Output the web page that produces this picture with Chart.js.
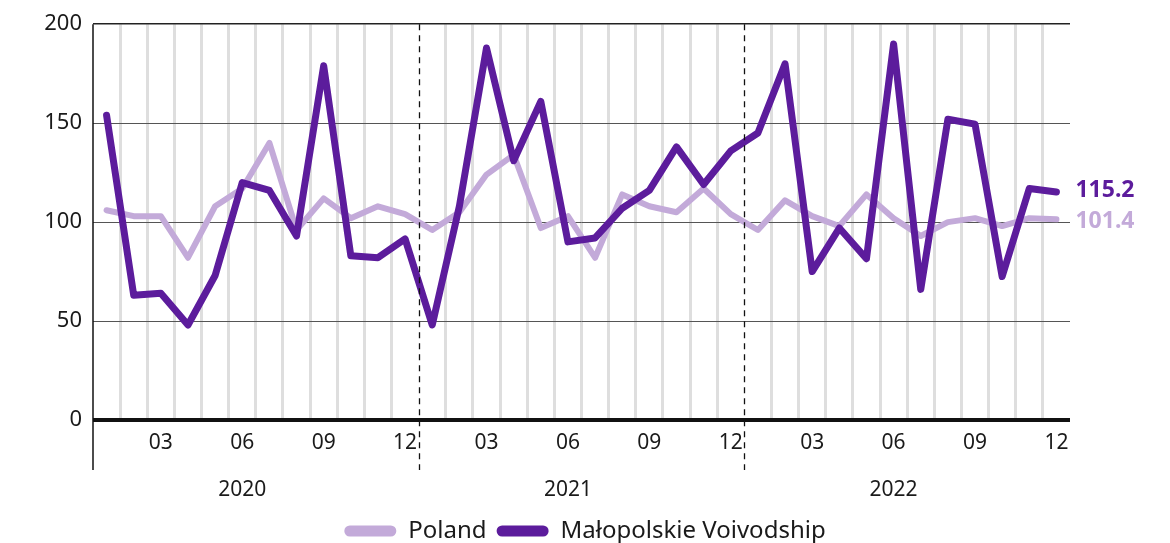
<!DOCTYPE html>
<html>
<head>
<meta charset="utf-8">
<script src="https://cdn.jsdelivr.net/npm/chart.js@4"></script>
<style>
  html, body { margin: 0; padding: 0; background: #fff; }
  #wrap { width: 1170px; height: 543px; }
</style>
</head>
<body>
<div id="wrap"><canvas id="graph"></canvas></div>
<script>
// months 2020-01 .. 2022-12
const years = ["2020", "2021", "2022"];
const months = ["01", "02", "03", "04", "05", "06", "07", "08", "09", "10", "11", "12"];
const labels = years.flatMap(y => months.map(m => y + "-" + m));

const poland = [106, 103, 103, 82, 108, 117, 140, 96, 112, 102, 108, 104,
                96, 105, 124, 134, 97, 103, 82, 114, 108, 105, 117, 104,
                96, 111, 103, 98, 114, 102, 93, 100, 102, 98, 102, 101.4];
const malopolskie = [154, 63, 64, 48, 73, 120, 116, 93, 179, 83, 82, 91.5,
                     48, 108, 188, 131, 161, 90, 92, 107, 116, 138, 119, 136,
                     145, 180, 75, 97, 81.5, 190, 66, 152, 149.5, 72.5, 117, 115.2];
const yTicks = [0, 50, 100, 150, 200];

const FONT = "'Noto Sans', sans-serif";
const LIGHT = "#c3aad9";
const DARK = "#5c1c9c";

// dashed year lines, left axis line, year labels, end values
const extras = {
  id: "extras",
  afterDatasetsDraw(chart) {
    const { ctx, chartArea, scales } = chart;
    const x = scales.x;
    const step = x.getPixelForValue(1) - x.getPixelForValue(0);
    ctx.save();
    // left axis
    ctx.strokeStyle = "#111";
    ctx.lineWidth = 1.5;
    ctx.beginPath();
    ctx.moveTo(chartArea.left, chartArea.top);
    ctx.lineTo(chartArea.left, 470);
    ctx.stroke();
    // year boundaries
    ctx.setLineDash([6, 5]);
    ctx.lineWidth = 1.3;
    [12, 24].forEach(i => {
      const px = Math.round(x.getPixelForValue(i) - step / 2) + 0.5;
      ctx.beginPath();
      ctx.moveTo(px, chartArea.top);
      ctx.lineTo(px, 470);
      ctx.stroke();
    });
    ctx.setLineDash([]);
    // years
    ctx.fillStyle = "#1a1a1a";
    ctx.font = "21px " + FONT;
    ctx.textAlign = "center";
    ctx.textBaseline = "middle";
    years.forEach((y, k) => {
      ctx.fillText(y, x.getPixelForValue(k * 12 + 5), 490);
    });
    // last values
    ctx.font = "bold 23px " + FONT;
    ctx.textAlign = "left";
    chart.data.datasets.forEach((ds, i) => {
      const meta = chart.getDatasetMeta(i);
      const pt = meta.data[meta.data.length - 1];
      ctx.fillStyle = ds.borderColor;
      const v = ds.data[ds.data.length - 1];
      ctx.fillText(v.toFixed(1), pt.x + 19, pt.y + (i === 0 ? 2 : -2));
    });
    ctx.restore();
  }
};

new Chart(document.getElementById("graph"), {
  type: "line",
  data: {
    labels: labels,
    datasets: [
      {
        label: "Poland",
        data: poland,
        borderColor: LIGHT,
        backgroundColor: LIGHT,
        borderWidth: 6,
        order: 1
      },
      {
        label: "Małopolskie Voivodship",
        data: malopolskie,
        borderColor: DARK,
        backgroundColor: DARK,
        borderWidth: 7,
        order: 0
      }
    ]
  },
  options: {
    responsive: true,
    maintainAspectRatio: false,
    animation: false,
    layout: { padding: { top: 24, right: 0, left: 0, bottom: -10 } },
    elements: {
      point: { radius: 0 },
      line: { tension: 0, borderJoinStyle: "round", borderCapStyle: "round" }
    },
    scales: {
      x: {
        offset: true,
        grid: {
          offset: true,
          drawTicks: false,
          color: c => (c.index === undefined || c.index === 0 || c.index === 12 || c.index === 24) ? "rgba(0,0,0,0)" : "#dedede",
          lineWidth: 3
        },
        border: { display: false },
        ticks: {
          autoSkip: false,
          maxRotation: 0,
          padding: 10,
          color: "#1a1a1a",
          font: { family: FONT, size: 21 },
          callback: (v, i) => ((i + 1) % 3 === 0 ? months[i % 12] : "")
        },
        afterFit: s => { s.height = 89; }
      },
      y: {
        min: 0,
        max: 200,
        afterBuildTicks: s => { s.ticks = yTicks.map(v => ({ value: v })); },
        grid: {
          drawTicks: false,
          color: c => c.tick.value === 0 ? "#111" : (c.tick.value === 200 ? "#222" : "#555"),
          lineWidth: c => c.tick.value === 0 ? 4 : (c.tick.value === 200 ? 1.5 : 1)
        },
        border: { display: false },
        ticks: {
          padding: 11,
          color: "#1a1a1a",
          font: { family: FONT, size: 22 }
        },
        afterFit: s => { s.width = 93; }
      },
      // empty space on the right for the end values
      yRight: {
        position: "right",
        min: 0,
        max: 200,
        grid: { display: false },
        border: { display: false },
        ticks: { display: false },
        afterFit: s => { s.width = 100; }
      }
    },
    plugins: {
      legend: {
        position: "bottom",
        reverse: true,
        labels: {
          boxWidth: 52,
          boxHeight: 11,
          useBorderRadius: true,
          borderRadius: 5.5,
          padding: 10,
          color: "#1a1a1a",
          font: { family: FONT, size: 24 },
          generateLabels: chart => Chart.defaults.plugins.legend.labels.generateLabels(chart).map(l => ({ ...l, lineWidth: 0 }))
        }
      },
      tooltip: { enabled: false }
    }
  },
  plugins: [extras]
});
</script>
</body>
</html>
